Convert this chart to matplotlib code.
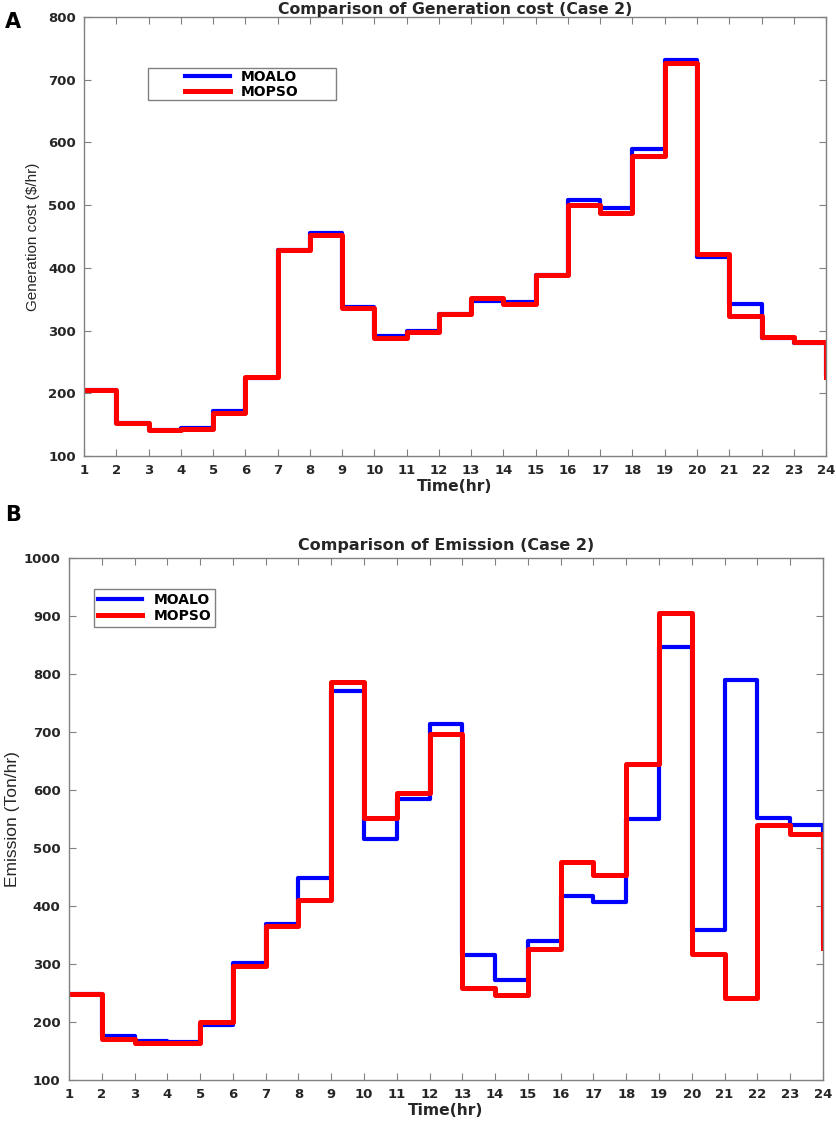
import numpy as np
import matplotlib
matplotlib.use("Agg")
import matplotlib.pyplot as plt
from matplotlib.patches import Rectangle

# Hours 1..24
hours = list(range(1, 25))

# Generation cost ($/hr), Case 2
cost_moalo = [205, 152, 142, 144, 171, 225, 428, 455, 338, 292, 299, 326,
              347, 345, 388, 509, 496, 589, 732, 417, 342, 288, 280, 230]
cost_mopso = [205, 152, 141, 143, 168, 226, 429, 453, 336, 288, 297, 326,
              352, 343, 388, 500, 488, 578, 727, 422, 323, 289, 282, 226]

# Emission (Ton/hr), Case 2
em_moalo = [248, 175, 167, 165, 195, 302, 369, 449, 770, 516, 585, 713,
            316, 273, 339, 417, 407, 550, 846, 358, 789, 551, 540, 335]
em_mopso = [248, 171, 163, 163, 200, 296, 365, 411, 786, 552, 594, 697,
            259, 247, 325, 475, 454, 645, 905, 317, 241, 540, 524, 328]

plt.rcParams['font.family'] = ['DejaVu Sans']
tick_col = '#262626'
spine_col = '#808080'
narrow = ['Liberation Sans Narrow', 'Liberation Sans', 'DejaVu Sans']

fig = plt.figure(figsize=(8.37, 11.29), dpi=100)
ax1 = fig.add_axes([0.1004, 0.5961, 0.8865, 0.3888])
ax2 = fig.add_axes([0.0824, 0.0434, 0.9008, 0.4624])


def style(ax, ylim, yticks):
    ax.set_xlim(1, 24)
    ax.set_ylim(*ylim)
    ax.set_xticks(hours)
    ax.set_yticks(yticks)
    ax.tick_params(direction='in', length=5, width=0.8, color=spine_col,
                   top=True, right=True, labelsize=9.5, labelcolor=tick_col)
    ax.tick_params(axis='x', pad=6)
    ax.tick_params(axis='y', pad=6)
    for lab in ax.get_xticklabels() + ax.get_yticklabels():
        lab.set_fontweight('bold')
    for s in ax.spines.values():
        s.set_color(spine_col)
        s.set_linewidth(1.0)
    ax.set_xlabel('Time(hr)', fontsize=11.2, fontweight='bold', color=tick_col,
                  labelpad=1)


# Panel A
ax1.step(hours, cost_moalo, where='post', color='blue', lw=3.0, label='MOALO')
ax1.step(hours, cost_mopso, where='post', color='red', lw=3.6, label='MOPSO')
style(ax1, (100, 800), range(100, 801, 100))
ax1.set_ylabel('Generation cost ($/hr)', family=narrow, fontsize=11,
               color=tick_col, labelpad=6)
ax1.set_title('Comparison of Generation cost (Case 2)', fontsize=11.3,
              fontweight='bold', color=tick_col, pad=2)
leg1 = ax1.legend(loc='center', bbox_to_anchor=(0.213, 0.847),
                  borderaxespad=0, handlelength=3.2, labelspacing=0.05,
                  borderpad=0.1, frameon=False,
                  prop={'weight': 'bold', 'size': 10})
ax1.add_patch(Rectangle((0.086, 0.811), 0.2534, 0.0729, transform=ax1.transAxes,
                        facecolor='white', edgecolor=spine_col, lw=1.0,
                        zorder=4.9))
leg1.set_zorder(5)

# Panel B
ax2.step(hours, em_moalo, where='post', color='blue', lw=3.0, label='MOALO')
ax2.step(hours, em_mopso, where='post', color='red', lw=3.6, label='MOPSO')
style(ax2, (100, 1000), range(100, 1001, 100))
ax2.set_ylabel('Emission (Ton/hr)', fontsize=12.5, family=['Liberation Sans', 'DejaVu Sans'],
               color=tick_col, labelpad=3)
ax2.set_title('Comparison of Emission (Case 2)', fontsize=11.5,
              fontweight='bold', color=tick_col, pad=6)
leg2 = ax2.legend(loc='upper left', bbox_to_anchor=(0.033, 0.941),
                  borderaxespad=0, handlelength=3.2, labelspacing=0.15,
                  borderpad=0.3, fancybox=False, framealpha=1,
                  prop={'weight': 'bold', 'size': 10})
leg2.get_frame().set_edgecolor(spine_col)
leg2.get_frame().set_linewidth(1.0)

fig.text(0.006, 0.989, 'A', fontsize=15, fontweight='bold', va='top', ha='left')
fig.text(0.006, 0.553, 'B', fontsize=15, fontweight='bold', va='top', ha='left')

fig.savefig('out.png', dpi=100)
